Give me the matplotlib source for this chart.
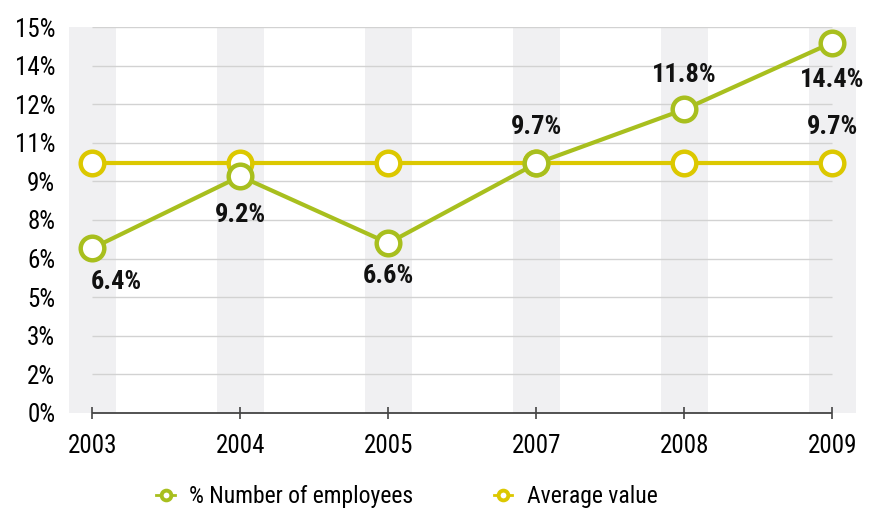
import matplotlib.pyplot as plt
import numpy as np
from matplotlib.lines import Line2D

plt.rcParams['font.family'] = ['Roboto Condensed', 'DejaVu Sans']

years = ['2003', '2004', '2005', '2007', '2008', '2009']
employees = [6.4, 9.2, 6.6, 9.7, 11.8, 14.4]
average = [9.7, 9.7, 9.7, 9.7, 9.7, 9.7]
ytick_values = [0, 1.5, 3, 4.5, 6, 7.5, 9, 10.5, 12, 13.5, 15]
ytick_labels = ['0%', '2%', '3%', '5%', '6%', '8%', '9%', '11%', '12%', '14%', '15%']

GREEN = '#a8bf1e'
YELLOW = '#dcc800'

fig = plt.figure(figsize=(8.69, 5.11), dpi=100)
ax = fig.add_axes([0.078, 0.192, 0.908, 0.755])

x = np.arange(len(years))

# grey bands behind every year
for xi in x:
    ax.axvspan(xi - 0.16, xi + 0.16, ymin=-0.005, color='#f0f0f2', zorder=0, lw=0)

# gridlines only between first and last year
ax.hlines(ytick_values[1:], x[0], x[-1], color='#d2d2d2', lw=1, zorder=1)
ax.hlines(0, x[0], x[-1], color='#444444', lw=1.3, zorder=2, clip_on=False)

ax.plot(x, average, color=YELLOW, lw=3, marker='o', ms=17, mfc='white',
        mec=YELLOW, mew=3.2, zorder=3, clip_on=False)
ax.plot(x, employees, color=GREEN, lw=3, marker='o', ms=17, mfc='white',
        mec=GREEN, mew=3.2, zorder=4, clip_on=False)

# value labels, offsets in points (0 = no label)
label_style = dict(fontsize=19, fontweight='bold', color='#111111', zorder=5)
emp_offsets = [-24, -28, -24, 0, 25, -27]
for i, (val, dy) in enumerate(zip(employees, emp_offsets)):
    if dy == 0:
        continue
    ha = 'left' if i == 0 else 'center'
    ax.annotate(f'{val}%', (x[i], val), xytext=(-1 if i == 0 else 0, dy),
                textcoords='offset points', ha=ha, va='center', **label_style)
for i in (3, 5):
    ax.annotate(f'{average[i]}%', (x[i], average[i]), xytext=(0, 26),
                textcoords='offset points', ha='center', va='center', **label_style)

ax.set_xlim(-0.165, 5.165)
ax.set_ylim(0, 15)
ax.set_xticks(x)
ax.set_xticklabels(years)
ax.set_yticks(ytick_values)
ax.set_yticklabels(ytick_labels)
ax.tick_params(axis='x', direction='inout', length=9, width=1.2, color='#444444',
               labelsize=18, pad=11)
ax.tick_params(axis='y', length=0, labelsize=18, pad=9)
for s in ax.spines.values():
    s.set_visible(False)

handles = [
    Line2D([], [], color=GREEN, lw=2, marker='o', ms=7, mfc='white', mec=GREEN, mew=2.8),
    Line2D([], [], color=YELLOW, lw=2, marker='o', ms=7, mfc='white', mec=YELLOW, mew=2.8),
]
fig.legend(handles, ['% Number of employees', 'Average value'], loc='lower center',
           bbox_to_anchor=(0.468, -0.036), ncol=2, frameon=False, fontsize=17,
           handlelength=0.8, handletextpad=0.6, columnspacing=3.4)

fig.savefig('out.png', dpi=100)
